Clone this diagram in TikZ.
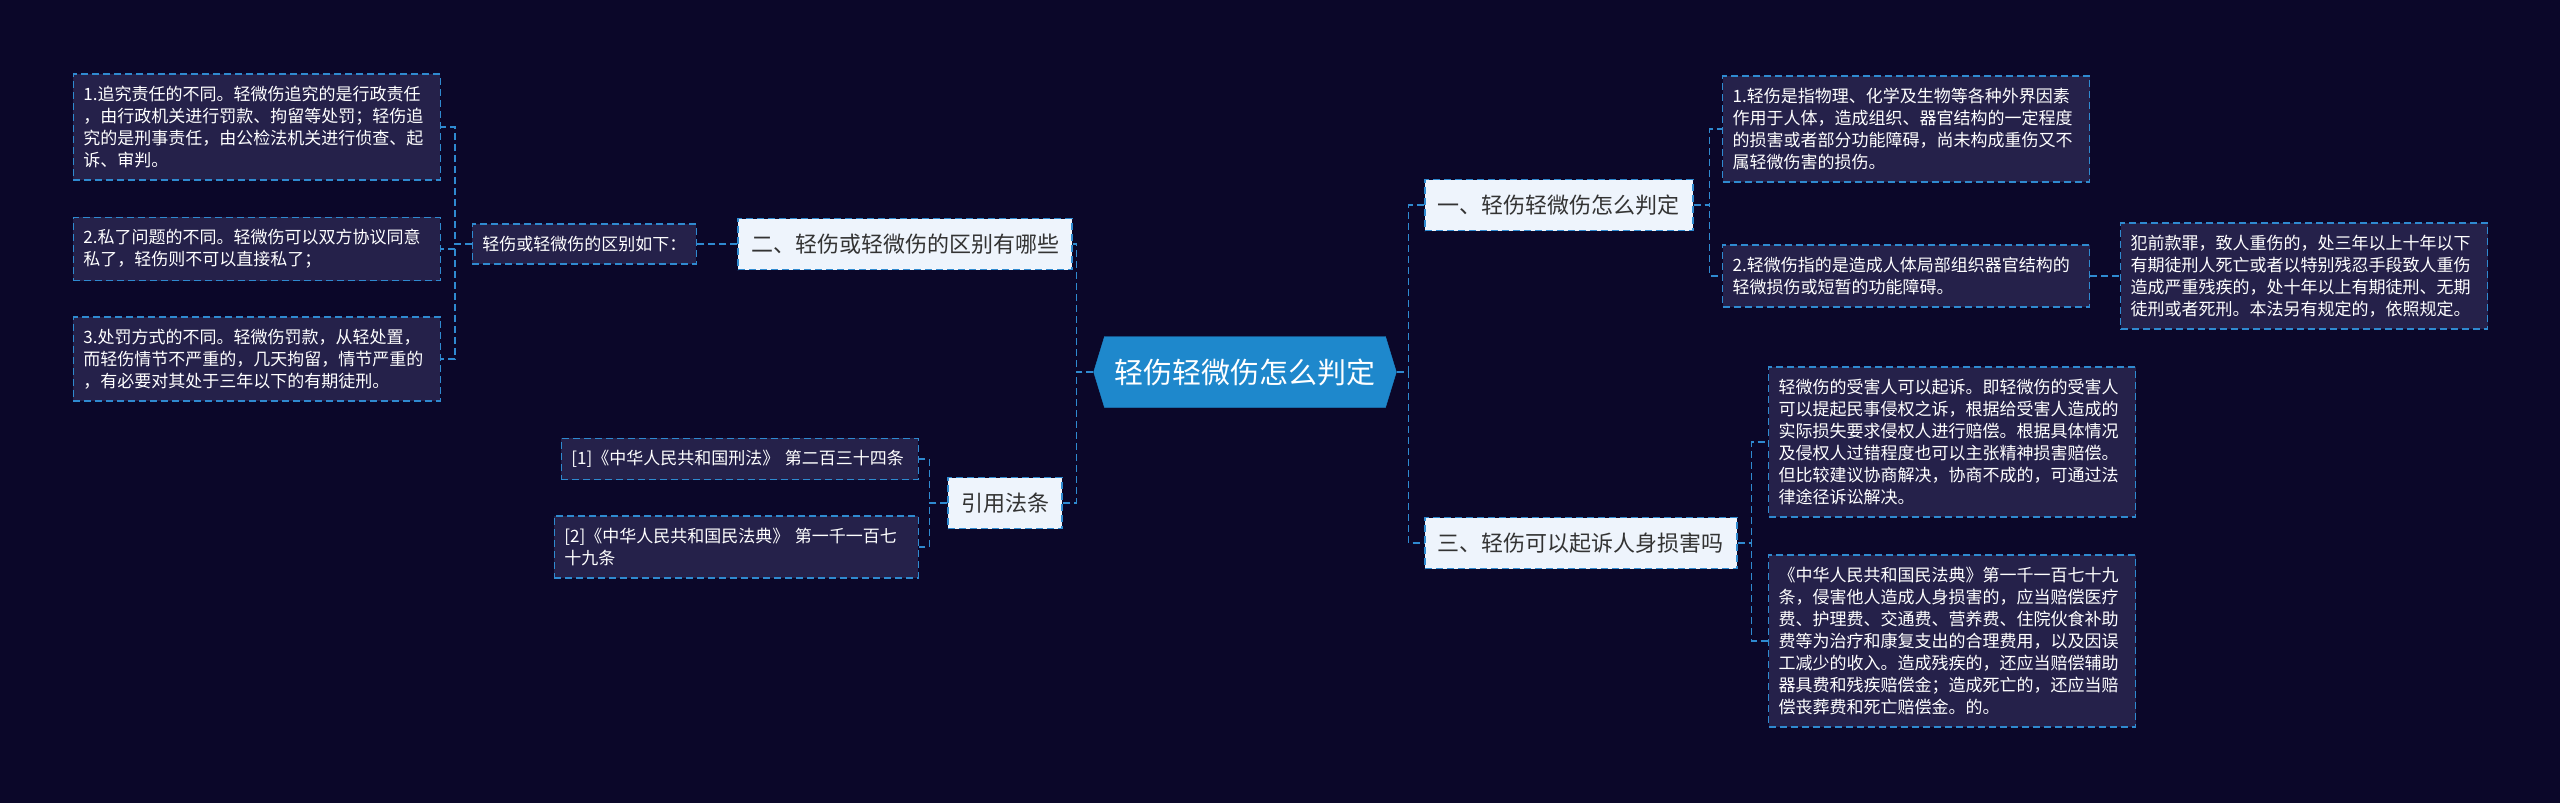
\documentclass[tikz,border=0pt]{standalone}
\usepackage{fontspec}
\setmainfont{Noto Sans CJK SC}
\usepackage{xcolor}
\usetikzlibrary{shapes.symbols, positioning}
\definecolor{cBG}{HTML}{0B0729}
\definecolor{cLINE}{HTML}{2F8AD0}
\definecolor{cLEAF}{HTML}{25214A}
\definecolor{cTOPIC}{HTML}{EEF4FC}
\definecolor{cHUB}{HTML}{1E88CC}
\definecolor{cINK}{HTML}{333333}

\tikzset{
  link/.style={cLINE, line width=1.6pt, dash pattern=on 7pt off 4pt},
  hub/.style={signal, signal to=east and west, signal pointer angle=146,
    fill=cHUB, draw=cHUB, text=white, font=\fontsize{29}{34}\selectfont,
    minimum height=71pt, inner xsep=10pt},
  topic/.style={draw=cLINE, line width=1.6pt, dash pattern=on 7pt off 4pt,
    fill=cTOPIC, text=cINK, font=\fontsize{22}{26}\selectfont,
    minimum height=51pt, inner xsep=13pt},
  note/.style={draw=cLINE, line width=1.3pt, dash pattern=on 7pt off 4pt,
    fill=cLEAF, text=white, font=\fontsize{17}{22}\selectfont, align=left,
    inner xsep=10pt, inner ysep=12pt},
  leaf/.style={note, text width=347pt}
}

\begin{document}
\begin{tikzpicture}[x=1pt, y=-1pt]
  \useasboundingbox[fill=cBG] (0,0) rectangle (2560,803);

  % Central topic
  \node[hub] (hub) at (1245,372) {轻伤轻微伤怎么判定};

  % Left branch: differences
  \node[topic, anchor=east] (t2) at (1073,244) {二、轻伤或轻微伤的区别有哪些};
  \node[note, anchor=east] (diff) at (697,244) {轻伤或轻微伤的区别如下：};
  \node[leaf, anchor=east] (l1) at (441,127) {1.追究责任的不同。轻微伤追究的是行政责任\\，由行政机关进行罚款、拘留等处罚；轻伤追\\究的是刑事责任，由公检法机关进行侦查、起\\诉、审判。};
  \node[leaf, anchor=east] (l2) at (441,249) {2.私了问题的不同。轻微伤可以双方协议同意\\私了，轻伤则不可以直接私了；};
  \node[leaf, anchor=east] (l3) at (441,359) {3.处罚方式的不同。轻微伤罚款，从轻处置，\\而轻伤情节不严重的，几天拘留，情节严重的\\，有必要对其处于三年以下的有期徒刑。};

  % Left branch: cited laws
  \node[topic, anchor=east] (tc) at (1063,503) {引用法条};
  \node[note, anchor=east, text width=337pt] (r1) at (919,459) {[1]《中华人民共和国刑法》 第二百三十四条};
  \node[note, anchor=east, text width=344pt] (r2) at (919,547) {[2]《中华人民共和国民法典》 第一千一百七\\十九条};

  % Right branch: definitions
  \node[topic, anchor=west] (t1) at (1424,205) {一、轻伤轻微伤怎么判定};
  \node[leaf, anchor=west] (ra1) at (1722,129) {1.轻伤是指物理、化学及生物等各种外界因素\\作用于人体，造成组织、器官结构的一定程度\\的损害或者部分功能障碍，尚未构成重伤又不\\属轻微伤害的损伤。};
  \node[leaf, anchor=west] (ra2) at (1722,276) {2.轻微伤指的是造成人体局部组织器官结构的\\轻微损伤或短暂的功能障碍。};
  \node[leaf, anchor=west] (ra3) at (2120,276) {犯前款罪，致人重伤的，处三年以上十年以下\\有期徒刑人死亡或者以特别残忍手段致人重伤\\造成严重残疾的，处十年以上有期徒刑、无期\\徒刑或者死刑。本法另有规定的，依照规定。};

  % Right branch: lawsuit
  \node[topic, anchor=west] (t3) at (1424,543) {三、轻伤可以起诉人身损害吗};
  \node[leaf, anchor=west] (rb1) at (1768,442) {轻微伤的受害人可以起诉。即轻微伤的受害人\\可以提起民事侵权之诉，根据给受害人造成的\\实际损失要求侵权人进行赔偿。根据具体情况\\及侵权人过错程度也可以主张精神损害赔偿。\\但比较建议协商解决，协商不成的，可通过法\\律途径诉讼解决。};
  \node[leaf, anchor=west] (rb2) at (1768,641) {《中华人民共和国民法典》第一千一百七十九\\条，侵害他人造成人身损害的，应当赔偿医疗\\费、护理费、交通费、营养费、住院伙食补助\\费等为治疗和康复支出的合理费用，以及因误\\工减少的收入。造成残疾的，还应当赔偿辅助\\器具费和残疾赔偿金；造成死亡的，还应当赔\\偿丧葬费和死亡赔偿金。的。};

  % Connectors
  \draw[link] (hub.east) -- ++(12,0) |- (t1.west);
  \draw[link] (hub.east) -- ++(12,0) |- (t3.west);
  \draw[link] (hub.west) -- ++(-17,0) |- (t2.east);
  \draw[link] (hub.west) -- ++(-17,0) |- (tc.east);

  \draw[link] (t2.west) -- (diff.east);
  \draw[link] (diff.west) -- ++(-17,0) |- (l1.east);
  \draw[link] (diff.west) -- ++(-17,0) |- (l2.east);
  \draw[link] (diff.west) -- ++(-17,0) |- (l3.east);

  \draw[link] (tc.west) -- ++(-18,0) |- (r1.east);
  \draw[link] (tc.west) -- ++(-18,0) |- (r2.east);

  \draw[link] (t1.east) -- ++(16,0) |- (ra1.west);
  \draw[link] (t1.east) -- ++(16,0) |- (ra2.west);
  \draw[link] (ra2.east) -- (ra3.west);

  \draw[link] (t3.east) -- ++(14,0) |- (rb1.west);
  \draw[link] (t3.east) -- ++(14,0) |- (rb2.west);
\end{tikzpicture}
\end{document}
